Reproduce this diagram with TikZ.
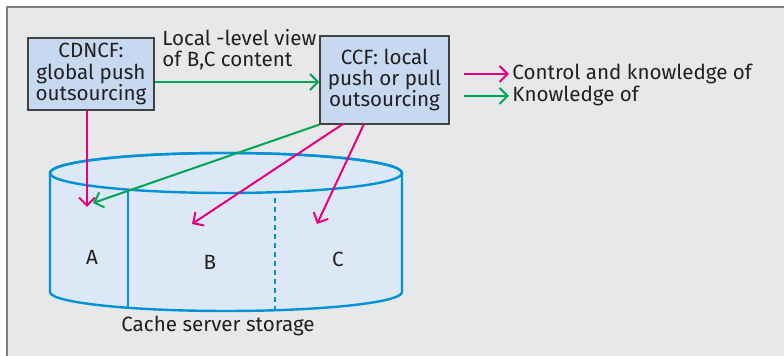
\documentclass[tikz,border=0pt]{standalone}
\usepackage{fontspec}
\setmainfont{Fira Sans}
\usetikzlibrary{arrows.meta}
\definecolor{ctrlred}{RGB}{230,0,126}
\definecolor{knowgreen}{RGB}{0,166,81}
\definecolor{diskblue}{RGB}{0,146,214}
\definecolor{diskfill}{RGB}{220,232,246}
\definecolor{boxfill}{RGB}{198,217,240}
\definecolor{panel}{RGB}{231,232,234}
\definecolor{ink}{RGB}{35,31,32}

\begin{document}
\begin{tikzpicture}[x=0.5pt, y=-0.5pt, font=\fontsize{10.3}{10.6}\selectfont,
	every node/.style={text=ink, inner sep=1.5pt},
	func/.style={draw=ink!85, line width=0.6pt, fill=boxfill, align=center, inner sep=2pt},
	ctrl/.style={draw=ctrlred, line width=1pt, -{Straight Barb[length=4pt, width=8pt]}},
	know/.style={draw=knowgreen, line width=1pt, -{Straight Barb[length=4pt, width=8pt]}},
	disk/.style={draw=diskblue, line width=1.2pt}]
	\useasboundingbox (0,0) rectangle (784,356);
	\fill[white] (0,0) rectangle (784,356);
	\filldraw[fill=panel, draw=gray, line width=1pt] (7,7) rectangle (800,370);
	
	\filldraw[disk, fill=diskfill] (50,173) -- (50,292) arc[start angle=180, end angle=0, x radius=176, y radius=19]
		-- (402,173) arc[start angle=0, end angle=-180, x radius=176, y radius=20] -- cycle;
	\draw[disk] (226,173) ellipse [x radius=176, y radius=20];
	\draw[disk] (128,189.6) -- (128,307.8);
	\draw[disk, dash pattern=on 2.5pt off 2pt] (275,198) -- (275,310);
	
	\node[func, minimum width=63pt, minimum height=36pt] (cdncf) at (91,74) {CDNCF:\\global push\\outsourcing};
	\node[func, minimum width=64.5pt, minimum height=44pt] (ccf) at (384.5,80) {CCF: local\\push or pull\\outsourcing};
	\node[anchor=west, align=left] (view) at (159,50) {Local -level view\\of B,C content};
	\node (a) at (92,257) {A};
	\node (b) at (210,262) {B};
	\node (c) at (338,259) {C};
	\node (cache) at (218,326) {Cache server storage};
	\node[anchor=west] (lctrl) at (509,74) {Control and knowledge of};
	\node[anchor=west] (lknow) at (509,96) {Knowledge of};
	
	\coordinate (kv) at (240,82);
	\coordinate (k1) at (464,74);
	\coordinate (k2) at (464,96);
	\coordinate (sa) at (87,207);
	\coordinate (ga) at (93,203);
	\coordinate (sb) at (192,224);
	\coordinate (sc) at (317,224);
	\coordinate (ccfa) at (343,124);
	\coordinate (ccfb) at (364,124);
	
	\draw[know] (cdncf.east |- kv) -- (ccf.west |- kv);
	\draw[ctrl] (cdncf.south -| sa) -- (sa);
	\draw[know] (ccf.south west) -- (ga);
	\draw[ctrl] (ccfa) -- (sb);
	\draw[ctrl] (ccfb) -- (sc);
	\draw[ctrl] (k1) -- (lctrl);
	\draw[know] (k2) -- (lknow);
\end{tikzpicture}
\end{document}
